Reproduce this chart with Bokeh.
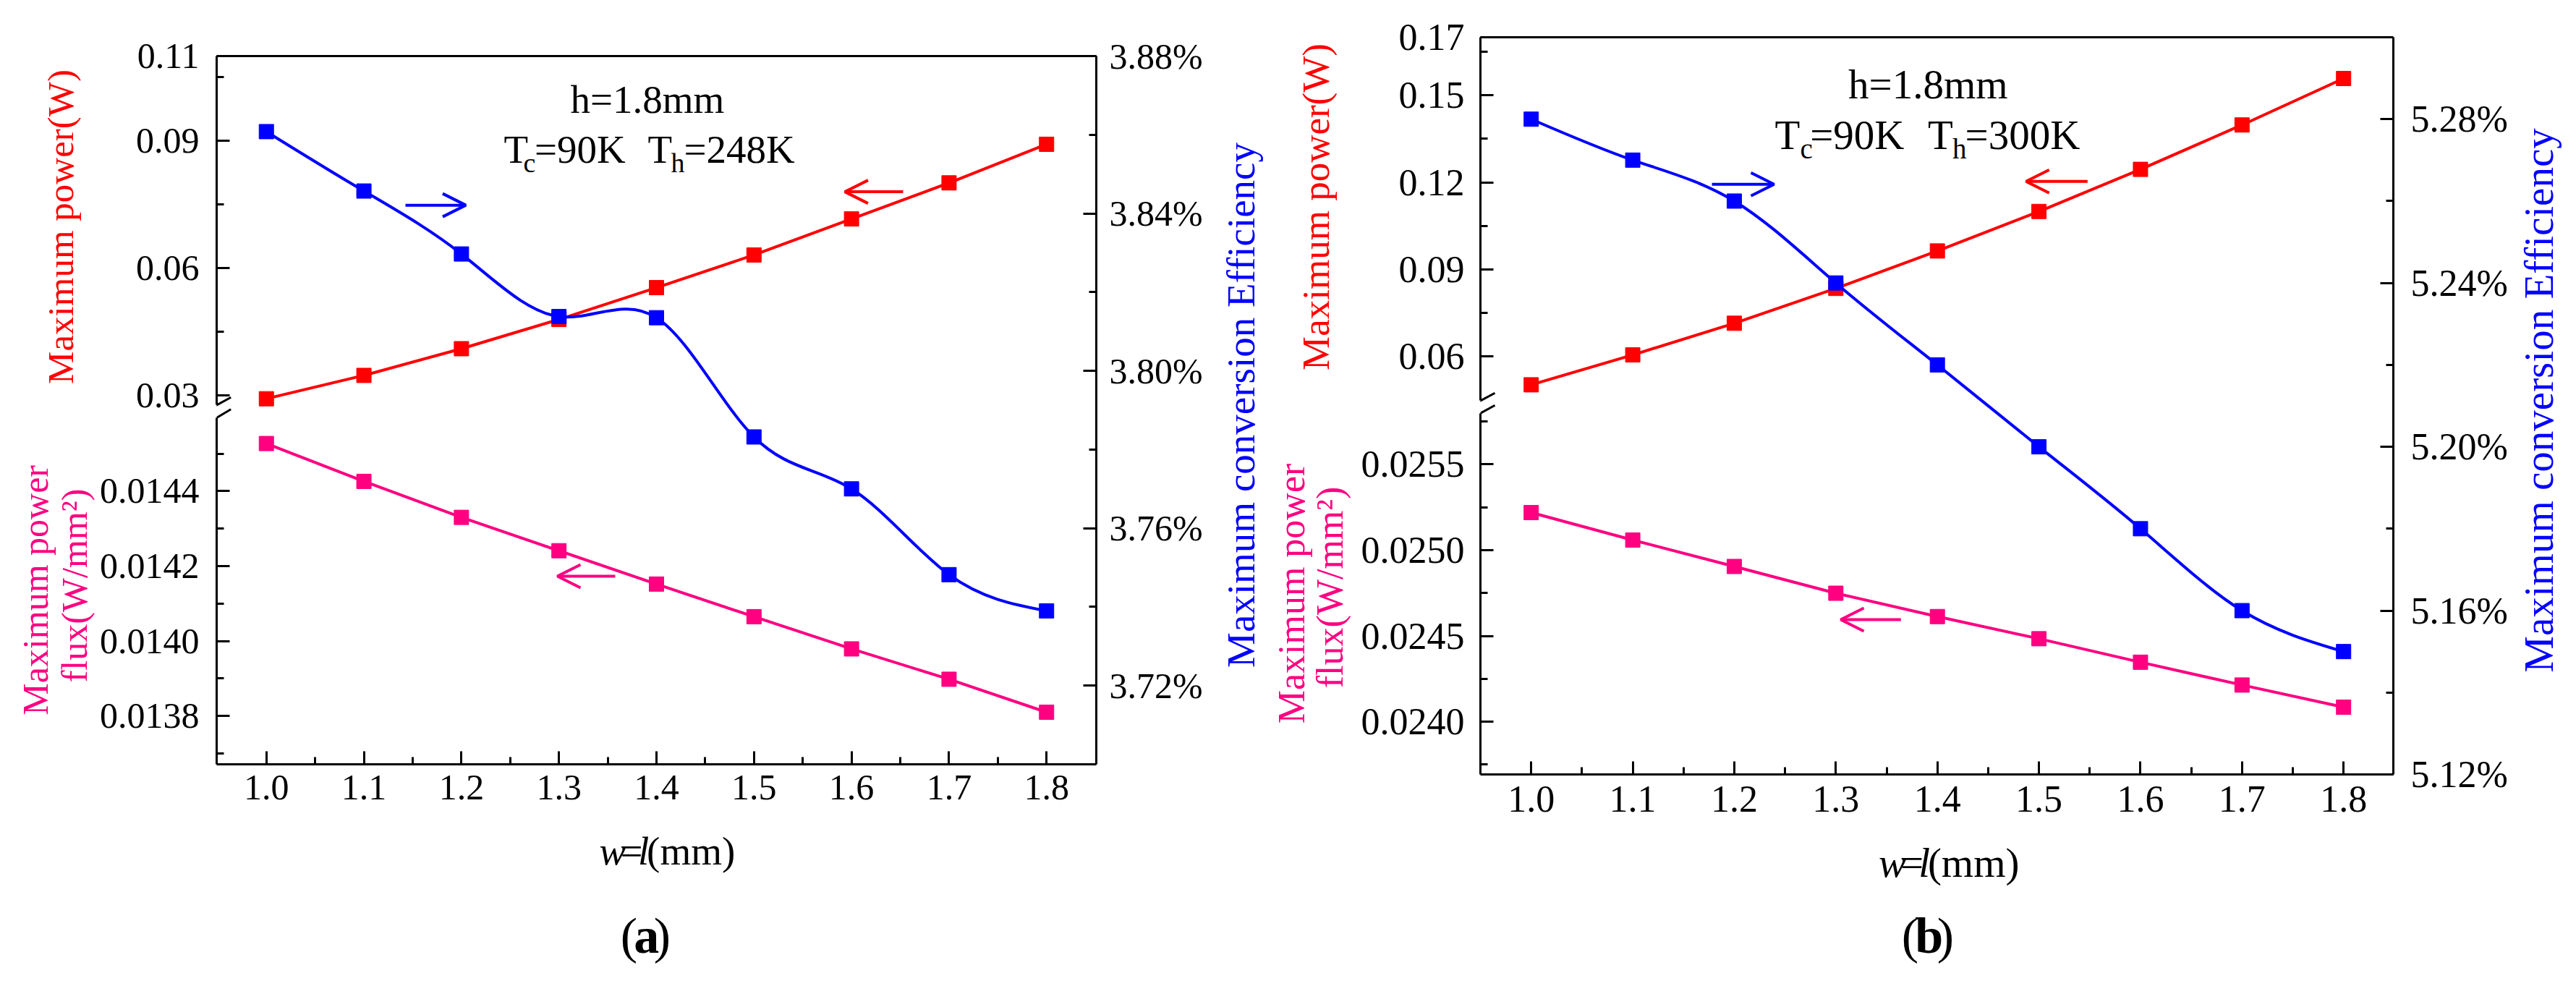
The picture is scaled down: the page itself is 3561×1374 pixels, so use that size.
import numpy as np
from bokeh.plotting import figure
from bokeh.layouts import row, column
from bokeh.models import (Range1d, LinearAxis, FixedTicker, CustomJSTickFormatter,
                          PrintfTickFormatter, Arrow, OpenHead, Label)
from bokeh.embed import file_html
from bokeh.resources import INLINE

# ---------------- data ----------------
w_mm = [1.0, 1.1, 1.2, 1.3, 1.4, 1.5, 1.6, 1.7, 1.8]
x_ticks = [1.0, 1.1, 1.2, 1.3, 1.4, 1.5, 1.6, 1.7, 1.8]
x_minor = [1.05, 1.15, 1.25, 1.35, 1.45, 1.55, 1.65, 1.75]

# panel (a): Th = 248 K
power_a = [0.0292, 0.0347, 0.0410, 0.0479, 0.0554, 0.0631, 0.0716, 0.0801, 0.0892]
flux_a = [0.014527, 0.014426, 0.014330, 0.014241, 0.014152, 0.014065, 0.013979, 0.013898, 0.013810]
eff_a = [3.8608, 3.8457, 3.8297, 3.8138, 3.8135, 3.7832, 3.7700, 3.7482, 3.7390]

# panel (b): Th = 300 K
power_b = [0.0503, 0.0606, 0.0715, 0.0835, 0.0964, 0.1100, 0.1245, 0.1398, 0.1558]
flux_b = [0.025219, 0.025059, 0.024905, 0.024749, 0.024613, 0.024484, 0.024347, 0.024214, 0.024085]
eff_b = [5.28, 5.27, 5.26, 5.24, 5.22, 5.20, 5.18, 5.16, 5.15]

power_ticks_a = [0.03, 0.06, 0.09, 0.11]
power_minor_a = [0.045, 0.075, 0.105]
flux_ticks_a = [0.0138, 0.0140, 0.0142, 0.0144]
flux_minor_a = [0.0137, 0.0139, 0.0141, 0.0143, 0.0145]
eff_ticks_a = [3.72, 3.76, 3.80, 3.84, 3.88]
eff_minor_a = [3.74, 3.78, 3.82, 3.86]

power_ticks_b = [0.06, 0.09, 0.12, 0.15, 0.17]
power_minor_b = [0.075, 0.105, 0.135, 0.165]
flux_ticks_b = [0.0240, 0.0245, 0.0250, 0.0255]
flux_minor_b = [0.02375, 0.02425, 0.02475, 0.02525, 0.02575]
eff_ticks_b = [5.12, 5.16, 5.20, 5.24, 5.28]
eff_minor_b = [5.14, 5.18, 5.22, 5.26]

title_power = "Maximum power(W)"
title_flux_1 = "Maximum power"
title_flux_2 = "flux(W/mm\u00b2)"
title_eff = "Maximum conversion Efficiency"

RED = "#FF0000"
BLUE = "#0000FF"
PINK = "#FF0080"
FONT = "Liberation Serif"
BASE_SHIFT = 0.23     # Label anchor sits this many em above the drawn baseline
FULL_H = 1350         # height of every column of the page layout

# ---------------- chart panels (geometry in page pixels) ----------------
cfg_a = dict(
    page_x=140, width=1540, height=1133, left=167, right=157, top=77,
    frame_w=1216, frame_h=979,
    x=(0.949, 1.851), eff=(3.70, 3.88), up=(-0.0570, 0.11), low=(0.013671, 0.015561),
    up_end=0.02778, low_start=0.014596,
    power=power_a, flux=flux_a, effv=eff_a,
    pt=power_ticks_a, pm=power_minor_a, ft=flux_ticks_a, fm=flux_minor_a,
    et=eff_ticks_a, em=eff_minor_a,
    tick_fs=50, xstand=15, lstand=24, rstand=18,
    arrows=[  # (range, x_start, y_start, x_end, y_end, color)
        ("default", 1.1426, 3.8421, 1.2045, 3.8421, BLUE),
        ("up", 1.6529, 0.0780, 1.5932, 0.0780, RED),
        ("low", 1.3577, 0.014173, 1.2984, 0.014173, PINK),
    ],
    breaks=[(290, 576.7, 326.7, 556.7), (290, 595.0, 326.7, 573.3)],
    texts=[
        ("h=1.8mm", 796, 158, 55),
        ("T", 704, 226.7, 55),
        ("c", 731, 241, 38),
        ("=90K", 746.4, 226.7, 55),
        ("T", 903, 226.7, 55),
        ("h", 935, 241, 38),
        ("=248K", 953, 226.7, 55),
    ],
    # texts below the chart: (text, left x, baseline y, size, style)
    below=[
        ("w", 810, 1197, 55, "italic"), ("=", 846.7, 1197, 55, "normal"),
        ("l", 877.7, 1197, 55, "italic"), ("(mm)", 893, 1197, 55, "normal"),
        ("(", 847, 1317, 70, "normal"), ("a", 870.3, 1317, 70, "bold"),
        (")", 905.3, 1317, 70, "normal"),
    ],
)

cfg_b = dict(
    page_x=1880, width=1600, height=1148, left=174, right=164, top=51,
    frame_w=1262, frame_h=1019,
    x=(0.95, 1.849), eff=(5.12, 5.30), up=(-0.0839, 0.17), low=(0.023693, 0.027989),
    up_end=0.04490, low_start=0.025797,
    power=power_b, flux=flux_b, effv=eff_b,
    pt=power_ticks_b, pm=power_minor_b, ft=flux_ticks_b, fm=flux_minor_b,
    et=eff_ticks_b, em=eff_minor_b,
    tick_fs=52, xstand=16, lstand=22, rstand=24,
    arrows=[
        ("default", 1.178, 5.2641, 1.2392, 5.2641, BLUE),
        ("up", 1.5479, 0.12034, 1.4873, 0.12034, RED),
        ("low", 1.3641, 0.024595, 1.3048, 0.024595, PINK),
    ],
    breaks=[(2035, 571.7, 2074, 550.7), (2035, 589.3, 2074, 567.7)],
    texts=[
        ("h=1.8mm", 2562.5, 136.7, 57),
        ("T", 2461, 206.7, 57),
        ("c", 2496, 221.7, 39),
        ("=90K", 2509.7, 206.7, 57),
        ("T", 2672.5, 206.7, 57),
        ("h", 2706.5, 221.7, 39),
        ("=300K", 2724, 206.7, 57),
    ],
    below=[
        ("w", 2578, 1213, 57, "italic"), ("=", 2616, 1213, 57, "normal"),
        ("l", 2648.1, 1213, 57, "italic"), ("(mm)", 2664, 1213, 57, "normal"),
        ("(", 2618.2, 1317, 70, "normal"), ("b", 2641.5, 1317, 70, "bold"),
        (")", 2680.4, 1317, 70, "normal"),
    ],
)

# ---------------- vertical title strips (page pixels) ----------------
# (text, baseline x, centre y, size, colour)
strip_left = dict(x=8, width=132, texts=[
    (title_power, 103, 321, 51, RED),
    (title_flux_1, 67.7, 823.4, 50, PINK),
    (title_flux_2, 122, 817, 50, PINK),
])
strip_mid = dict(x=1680, width=200, texts=[
    (title_eff, 1736, 567.5, 55, BLUE),
    (title_power, 1838.3, 293.5, 53, RED),
    (title_flux_1, 1805, 828, 52, PINK),
    (title_flux_2, 1858, 819.5, 52, PINK),
])
strip_right = dict(x=3480, width=72, texts=[
    (title_eff, 3530, 561, 57, BLUE),
])


def spline_beziers(xs, ys):
    """Natural cubic spline through the points, expressed as Bezier segments."""
    x = np.asarray(xs, float)
    y = np.asarray(ys, float)
    n = len(x)
    h = np.diff(x)
    A = np.zeros((n, n))
    r = np.zeros(n)
    A[0, 0] = 1.0
    A[-1, -1] = 1.0
    for i in range(1, n - 1):
        A[i, i - 1] = h[i - 1]
        A[i, i] = 2 * (h[i - 1] + h[i])
        A[i, i + 1] = h[i]
        r[i] = 6 * ((y[i + 1] - y[i]) / h[i] - (y[i] - y[i - 1]) / h[i - 1])
    M = np.linalg.solve(A, r)
    s = (y[1:] - y[:-1]) / h
    d0 = s - h * (2 * M[:-1] + M[1:]) / 6
    d1 = s + h * (M[:-1] + 2 * M[1:]) / 6
    return dict(x0=x[:-1], y0=y[:-1], x1=x[1:], y1=y[1:],
                cx0=x[:-1] + h / 3, cy0=y[:-1] + d0 * h / 3,
                cx1=x[1:] - h / 3, cy1=y[1:] - d1 * h / 3)


def style_axis(ax, fs, standoff):
    ax.axis_line_width = 3
    ax.axis_line_color = "black"
    ax.major_tick_line_width = 3
    ax.minor_tick_line_width = 3
    ax.major_tick_in = 18
    ax.major_tick_out = 0
    ax.minor_tick_in = 10
    ax.minor_tick_out = 0
    ax.major_label_text_font = FONT
    ax.major_label_text_font_size = f"{fs}px"
    ax.major_label_text_color = "black"
    ax.major_label_standoff = standoff


def spine_axis(range_name, bounds, ticks, minors):
    """Zero-width axis that draws one segment of the broken left spine."""
    ax = LinearAxis(y_range_name=range_name, bounds=bounds,
                    ticker=FixedTicker(ticks=ticks, minor_ticks=minors),
                    formatter=CustomJSTickFormatter(code="return '';"))
    style_axis(ax, 50, 0)
    ax.major_label_text_color = None
    ax.major_label_text_font_size = "0px"
    return ax


def text_strip(x, width, y, height):
    """Figure without axes whose frame covers the whole canvas; data = page pixels."""
    s = figure(width=width, height=height,
               x_range=Range1d(x, x + width), y_range=Range1d(y + height, y),
               output_backend="svg", toolbar_location=None,
               x_axis_location=None, y_axis_location=None,
               min_border_left=0, min_border_right=0,
               min_border_top=0, min_border_bottom=0)
    s.outline_line_color = None
    s.grid.visible = False
    s.background_fill_color = "white"
    s.border_fill_color = "white"
    return s


def build(cfg):
    L = cfg["page_x"] + cfg["left"]
    T = 8 + cfg["top"]
    x0, x1 = cfg["x"]
    e0, e1 = cfg["eff"]

    def px2x(px):
        return x0 + (px - L) / cfg["frame_w"] * (x1 - x0)

    def py2e(py):
        return e1 - (py - T) / cfg["frame_h"] * (e1 - e0)

    p = figure(width=cfg["width"], height=cfg["height"],
               x_range=Range1d(x0, x1), y_range=Range1d(e0, e1),
               output_backend="svg", toolbar_location=None,
               x_axis_location="below", y_axis_location="right",
               min_border_left=cfg["left"], min_border_right=cfg["right"],
               min_border_top=cfg["top"],
               min_border_bottom=cfg["height"] - cfg["top"] - cfg["frame_h"])
    p.outline_line_color = None
    p.background_fill_color = "white"
    p.border_fill_color = "white"
    p.grid.visible = False
    p.extra_y_ranges = {"up": Range1d(*cfg["up"]), "low": Range1d(*cfg["low"])}
    us, ue = cfg["up"]
    ls, le = cfg["low"]

    # bottom axis
    xa = p.xaxis[0]
    xa.ticker = FixedTicker(ticks=x_ticks, minor_ticks=x_minor)
    xa.formatter = PrintfTickFormatter(format="%.1f")
    style_axis(xa, cfg["tick_fs"], cfg["xstand"])

    # right axis (efficiency)
    ra = p.yaxis[0]
    ra.ticker = FixedTicker(ticks=cfg["et"], minor_ticks=cfg["em"])
    ra.formatter = PrintfTickFormatter(format="%.2f%%")
    style_axis(ra, cfg["tick_fs"], cfg["rstand"])

    # top border
    ta = LinearAxis(ticker=FixedTicker(ticks=[]), major_label_text_font_size="0px")
    ta.axis_line_width = 3
    ta.major_tick_line_color = None
    ta.minor_tick_line_color = None
    p.add_layout(ta, "above")

    # broken left spine: upper (power) and lower (flux) segments
    p.add_layout(spine_axis("up", (cfg["up_end"], ue), cfg["pt"], cfg["pm"]), "left")
    p.add_layout(spine_axis("low", (ls, cfg["low_start"]), cfg["ft"], cfg["fm"]), "left")

    # tick labels of both segments on one axis
    def low2up(v):
        return us + (v - ls) * (ue - us) / (le - ls)
    brk = (cfg["up_end"] + low2up(cfg["low_start"])) / 2
    la = LinearAxis(y_range_name="up",
                    ticker=FixedTicker(ticks=list(cfg["pt"]) + [low2up(v) for v in cfg["ft"]],
                                       minor_ticks=[]),
                    formatter=CustomJSTickFormatter(
                        args=dict(brk=brk, us=us, ue=ue, ls=ls, le=le),
                        code="""
if (tick < brk) {
  const v = ls + (tick - us) * (le - ls) / (ue - us);
  return v.toFixed(4);
}
return tick.toFixed(2);
"""))
    style_axis(la, cfg["tick_fs"], cfg["lstand"])
    la.axis_line_color = None
    la.major_tick_line_color = None
    la.minor_tick_line_color = None
    p.add_layout(la, "left")

    # break marks
    for (ax0, ay0, ax1, ay1) in cfg["breaks"]:
        p.add_layout(Arrow(start=None, end=None, x_start=px2x(ax0), y_start=py2e(ay0),
                           x_end=px2x(ax1), y_end=py2e(ay1),
                           line_width=3, line_color="black"))

    # series
    p.line(w_mm, cfg["power"], y_range_name="up", line_color=RED, line_width=4)
    p.scatter(w_mm, cfg["power"], y_range_name="up", marker="square", size=20,
              fill_color=RED, line_color=RED)
    p.line(w_mm, cfg["flux"], y_range_name="low", line_color=PINK, line_width=4)
    p.scatter(w_mm, cfg["flux"], y_range_name="low", marker="square", size=20,
              fill_color=PINK, line_color=PINK)
    bz = spline_beziers(w_mm, cfg["effv"])
    p.bezier(x0=bz["x0"], y0=bz["y0"], x1=bz["x1"], y1=bz["y1"],
             cx0=bz["cx0"], cy0=bz["cy0"], cx1=bz["cx1"], cy1=bz["cy1"],
             line_color=BLUE, line_width=4)
    p.scatter(w_mm, cfg["effv"], marker="square", size=20,
              fill_color=BLUE, line_color=BLUE)

    # direction arrows
    for (rn, xs_, ys_, xe_, ye_, col) in cfg["arrows"]:
        p.add_layout(Arrow(end=OpenHead(size=32, line_width=4, line_color=col),
                           x_start=xs_, y_start=ys_, x_end=xe_, y_end=ye_,
                           y_range_name=rn, line_width=4, line_color=col))

    # in-plot annotation text
    for (txt, px, py, fs) in cfg["texts"]:
        p.add_layout(Label(x=px2x(px), y=py2e(py - BASE_SHIFT * fs), text=txt,
                           text_font=FONT, text_font_size=f"{fs}px", text_color="black",
                           text_align="left", text_baseline="alphabetic"))

    # x-axis title and caption, in a strip right under the chart
    sy = 8 + cfg["height"]
    sb = text_strip(cfg["page_x"], cfg["width"], sy, FULL_H - cfg["height"])
    for (txt, lx, by, fs, style) in cfg["below"]:
        sb.add_layout(Label(x=lx, y=by - BASE_SHIFT * fs, text=txt, text_font=FONT,
                            text_font_size=f"{fs}px", text_font_style=style,
                            text_color="black", text_align="left",
                            text_baseline="alphabetic"))
    return column(p, sb, spacing=0)


def vertical_strip(cfg):
    s = text_strip(cfg["x"], cfg["width"], 8, FULL_H)
    for (txt, bx, cy, fs, col) in cfg["texts"]:
        s.add_layout(Label(x=bx - BASE_SHIFT * fs, y=cy, text=txt, text_font=FONT,
                           text_font_size=f"{fs}px", text_color=col,
                           angle=np.pi / 2, angle_units="rad",
                           text_align="center", text_baseline="alphabetic"))
    return s


col_a = build(cfg_a)
col_b = build(cfg_b)
sl = vertical_strip(strip_left)
sm = vertical_strip(strip_mid)
sr = vertical_strip(strip_right)

layout = row(sl, col_a, sm, col_b, sr, spacing=0)

with open("out.html", "w") as f:
    f.write(file_html(layout, INLINE, "chart"))
